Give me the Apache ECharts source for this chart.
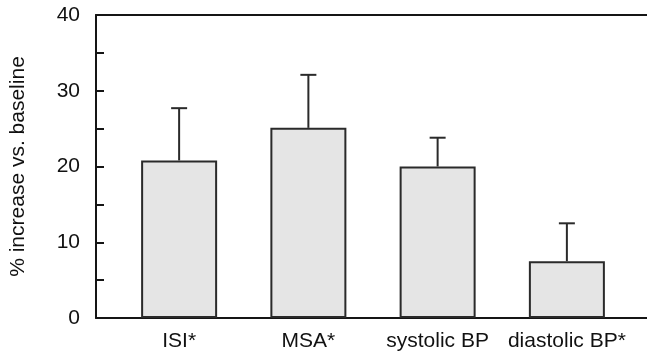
<!DOCTYPE html>
<html>
<head>
<meta charset="utf-8">
<script src="https://cdn.jsdelivr.net/npm/echarts@6/dist/echarts.min.js"></script>
<style>
  html, body { margin: 0; padding: 0; background: #fff; }
  #chart { width: 647px; height: 354px; }
</style>
</head>
<body>
<div id="chart"></div>
<script>
var categories = ['ISI*', 'MSA*', 'systolic BP', 'diastolic BP*'];
var means = [20.8, 25.1, 20.0, 7.5];
var errors = [6.9, 7.0, 3.8, 5.0];
var yTicks = [0, 10, 20, 30, 40];

var chart = echarts.init(document.getElementById('chart'), null, { renderer: 'canvas' });
var font = 'Liberation Sans, Arial, sans-serif';
var axisColor = '#151515';

var option = {
  animation: false,
  backgroundColor: '#ffffff',
  grid: [
    { left: 92, right: 0, top: 15, bottom: 36 },
    { left: 114.5, right: 15.5, top: 15, bottom: 36 }
  ],
  xAxis: [
    { gridIndex: 0, type: 'value', min: 0, max: 1, position: 'bottom',
      axisLine: { show: true, onZero: false, lineStyle: { color: axisColor, width: 2 } },
      axisTick: { show: false }, axisLabel: { show: false }, splitLine: { show: false } },
    { gridIndex: 0, type: 'value', min: 0, max: 1, position: 'top',
      axisLine: { show: true, onZero: false, lineStyle: { color: axisColor, width: 2 } },
      axisTick: { show: false }, axisLabel: { show: false }, splitLine: { show: false } },
    { gridIndex: 1, type: 'category', data: categories, boundaryGap: true,
      axisLine: { show: false }, axisTick: { show: false },
      axisLabel: { interval: 0, color: '#111111', fontFamily: font, fontSize: 21, margin: 13 } }
  ],
  yAxis: [
    { gridIndex: 0, type: 'value', min: 0, max: 40, interval: 5,
      name: '% increase vs. baseline', nameLocation: 'middle', nameGap: 67,
      nameTextStyle: { color: '#111111', fontFamily: font, fontSize: 21 },
      axisLine: { show: true, lineStyle: { color: axisColor, width: 2 } },
      axisTick: { show: true, inside: true, length: 8, lineStyle: { color: axisColor, width: 2 } },
      axisLabel: { color: '#111111', fontFamily: font, fontSize: 21, margin: 16,
        formatter: function (v) { return yTicks.indexOf(v) >= 0 ? String(v) : ''; } },
      splitLine: { show: false } },
    { gridIndex: 1, type: 'value', min: 0, max: 40, show: false }
  ],
  series: [
    { type: 'bar', xAxisIndex: 2, yAxisIndex: 1, data: means, barWidth: 76,
      itemStyle: { color: '#e5e5e5', borderColor: '#2a2a2a', borderWidth: 2 } },
    { type: 'custom', xAxisIndex: 2, yAxisIndex: 1, z: 5,
      data: means.map(function (m, i) { return [i, m, m + errors[i]]; }),
      renderItem: function (params, api) {
        var base = api.coord([api.value(0), api.value(1)]);
        var top = api.coord([api.value(0), api.value(2)]);
        var half = 8;
        var st = { stroke: '#2a2a2a', lineWidth: 2 };
        return { type: 'group', children: [
          { type: 'line', shape: { x1: base[0], y1: base[1], x2: top[0], y2: top[1] }, style: st },
          { type: 'line', shape: { x1: top[0] - half, y1: top[1], x2: top[0] + half, y2: top[1] }, style: st }
        ] };
      } }
  ]
};
chart.setOption(option);
</script>
</body>
</html>
